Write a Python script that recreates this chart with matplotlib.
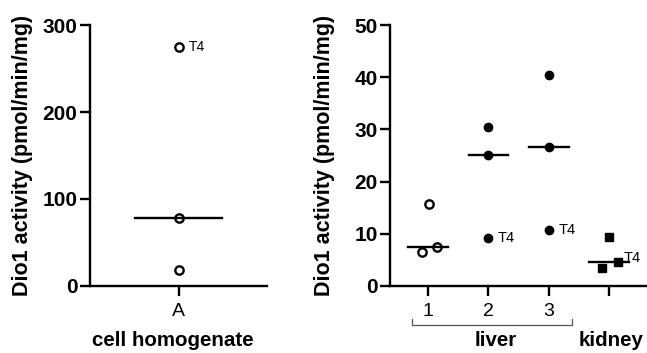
import numpy as np
import matplotlib
matplotlib.use('Agg')
import matplotlib.pyplot as plt
import matplotlib.transforms as mtransforms

plt.rcParams['font.family'] = ['Liberation Sans', 'DejaVu Sans']

# cell homogenate (panel A)
cell_vals = [275, 78, 18]
cell_median = 78

# liver samples 1-3 and kidney
liver1_vals = [15.7, 6.5, 7.5]
liver1_dx = [0.02, -0.10, 0.15]
liver2_vals = [30.5, 25.0, 9.2]
liver3_vals = [40.5, 26.7, 10.8]
kidney_vals = [9.3, 3.4, 4.5]
kidney_dx = [0.0, -0.12, 0.15]
right_medians = [7.5, 25.0, 26.7, 4.5]
right_ticklabels = ['1', '2', '3', '']

fig = plt.figure(figsize=(6.47, 3.53), dpi=100)
axL = fig.add_axes([0.139, 0.190, 0.274, 0.739])
axR = fig.add_axes([0.603, 0.190, 0.397, 0.739])

for ax in (axL, axR):
    for s in ('top', 'right'):
        ax.spines[s].set_visible(False)
    for s in ('left', 'bottom'):
        ax.spines[s].set_linewidth(1.7)
    ax.tick_params(width=1.7, length=7)
    ax.tick_params(axis='y', labelsize=15, pad=2)
    ax.tick_params(axis='x', labelsize=14, pad=5)

ms = 6
# left panel
axL.plot([0] * len(cell_vals), cell_vals, 'o', mfc='white', mec='black', mew=1.7, ms=ms)
axL.plot([-0.49, 0.49], [cell_median] * 2, color='black', lw=1.7)
axL.text(0.12, cell_vals[0], 'T4', fontsize=10, va='center')
axL.set_xlim(-1, 1)
axL.set_ylim(0, 300)
axL.set_yticks([0, 100, 200, 300])
axL.set_xticks([0])
axL.set_xticklabels(['A'])
axL.set_ylabel('Dio1 activity (pmol/min/mg)', fontsize=15.5, fontweight='bold')
axL.yaxis.set_label_coords(-0.32, 0.5)
axL.text(-0.07, -0.21, 'cell homogenate', transform=mtransforms.blended_transform_factory(axL.transData, axL.transAxes),
         ha='center', va='center', fontsize=14.8, fontweight='bold')

# right panel
axR.plot(np.array(liver1_dx), liver1_vals, 'o', mfc='white', mec='black', mew=1.7, ms=ms)
axR.plot([1] * 3, liver2_vals, 'o', color='black', ms=ms)
axR.plot([2] * 3, liver3_vals, 'o', color='black', ms=ms)
axR.plot(3 + np.array(kidney_dx), kidney_vals, 's', color='black', ms=ms)
for i, m in enumerate(right_medians):
    axR.plot([i - 0.33, i + 0.33], [m, m], color='black', lw=1.7)
axR.text(1.16, liver2_vals[2], 'T4', fontsize=10.5, va='center')
axR.text(2.16, liver3_vals[2], 'T4', fontsize=10.5, va='center')
axR.text(3.25, kidney_vals[2] + 0.9, 'T4', fontsize=10.5, va='center')
axR.set_xlim(-0.63, 3.63)
axR.set_ylim(0, 50)
axR.set_yticks(range(0, 51, 10))
axR.set_xticks(range(4))
axR.set_xticklabels(right_ticklabels)
axR.set_ylabel('Dio1 activity (pmol/min/mg)', fontsize=15.5, fontweight='bold')
axR.yaxis.set_label_coords(-0.214, 0.5)

for ax in (axL, axR):
    for lab in ax.get_yticklabels():
        lab.set_fontweight('bold')

tr = mtransforms.blended_transform_factory(axR.transData, axR.transAxes)
axR.plot([-0.27, -0.27, 2.39, 2.39], [-0.127, -0.149, -0.149, -0.127], color='#555555', lw=0.9,
         transform=tr, clip_on=False)
axR.text(1.12, -0.21, 'liver', transform=tr, ha='center', va='center', fontsize=14.8, fontweight='bold')
axR.text(3.03, -0.21, 'kidney', transform=tr, ha='center', va='center', fontsize=14.8, fontweight='bold')

fig.savefig('out.png', dpi=100)
